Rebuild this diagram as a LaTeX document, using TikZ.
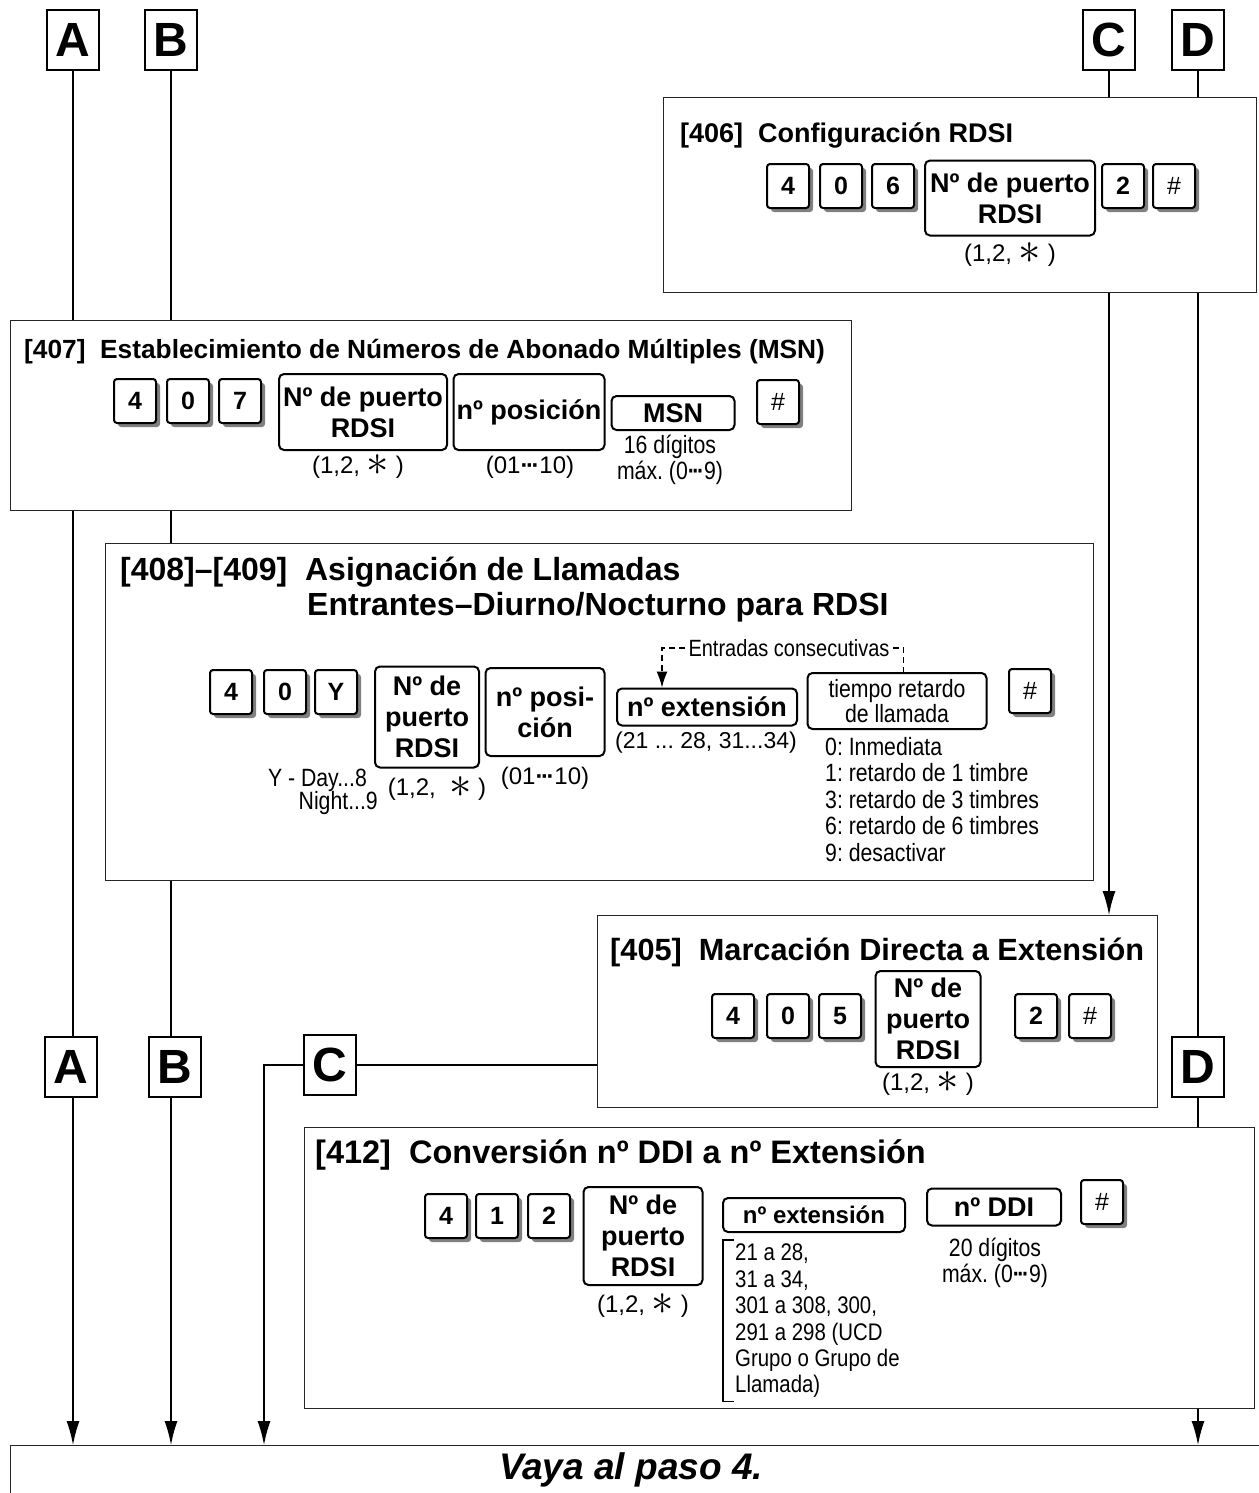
\documentclass[tikz,border=0pt]{standalone}
\usepackage{fontspec}
\setmainfont{Liberation Sans}
\newfontfamily\narrowsf[FakeStretch=0.85]{Liberation Sans}
\usetikzlibrary{arrows.meta, shadows}
\newcommand{\fs}[2]{\fontsize{#1}{#2}\selectfont}
\newcommand{\st}{\raisebox{-2pt}[0.72em][0pt]{\scalebox{1.8}{$\ast$}}}
\newcommand{\md}{\textbf{·\kern-2.5pt·\kern-2.5pt·}}
\frenchspacing

\begin{document}
\begin{tikzpicture}[x=1pt, y=-1pt,
    tag/.style={draw, line width=2.5pt, minimum width=52, minimum height=60, inner sep=0pt, fill=white, font=\bfseries\fs{48}{48}},
    panel/.style={draw=black!85, line width=1.3pt, anchor=north west, inner sep=0pt},
    key/.style={draw, line width=2pt, rounded corners=3pt, minimum width=42, minimum height=44, inner sep=0pt, fill=white, font=\bfseries\fs{25}{25}, drop shadow={shadow xshift=4pt, shadow yshift=-4pt, fill=black!50, opacity=1}},
    field/.style={draw, line width=2pt, rounded corners=5pt, inner sep=0pt, align=center, font=\bfseries\fs{27}{31}},
    heading/.style={anchor=west, inner sep=0pt, font=\bfseries\fs{#1}{#1}},
    note/.style={font=\fs{24}{26}, inner sep=0pt, align=center},
    thin/.style={font=\narrowsf\fs{25}{26.5}, inner sep=0pt},
    line/.style={line width=1.4pt},
    arr/.style={line width=1.4pt, -{Latex[length=24pt, width=13pt]}}
  ]
  \useasboundingbox (0,0) rectangle (1258,1493);

  % boxes
  \node[panel, minimum width=593, minimum height=195] (p406) at (663,97) {};
  \node[panel, minimum width=841, minimum height=190] (p407) at (10,320) {};
  \node[panel, minimum width=988, minimum height=337] (p408) at (105,543) {};
  \node[panel, minimum width=560, minimum height=192] (p405) at (597,915) {};
  \node[panel, minimum width=950, minimum height=281] (p412) at (304,1127) {};
  \node[panel, minimum width=1270, minimum height=90] (goal) at (10,1445) {};
  \node[font=\bfseries\itshape\fs{37}{37}, inner sep=0pt] (goaltext) at (631,1470) {Vaya al paso 4.};

  \node[tag] (A1) at (73,40) {A};
  \node[tag] (B1) at (171,40) {B};
  \node[tag] (C1) at (1109,40) {C};
  \node[tag] (D1) at (1198,40) {D};
  \node[tag] (A2) at (71,1067) {A};
  \node[tag] (B2) at (175,1067) {B};
  \node[tag] (C2) at (330,1065) {C};
  \node[tag] (D2) at (1198,1067) {D};

  % flow lines
  \draw[line] (A1.south) -- (A1 |- p407.north);
  \draw[line] (A1 |- p407.south) -- (A1 |- A2.north);
  \draw[arr] (A1 |- A2.south) -- (A1 |- goal.north);

  \draw[line] (B1.south) -- (B1 |- p407.north);
  \draw[line] (B1 |- p407.south) -- (B1 |- p408.north);
  \draw[line] (B1 |- p408.south) -- (B1 |- B2.north);
  \draw[arr] (B1 |- B2.south) -- (B1 |- goal.north);

  \draw[line] (C1.south) -- (C1 |- p406.north);
  \draw[arr] (C1 |- p406.south) -- (C1 |- p405.north);
  \draw[line] (p405.west |- C2) -- (C2.east);
  \coordinate (cturn) at (264,1065);
  \draw[arr] (C2.west) -- (cturn) -- (cturn |- goal.north);

  \draw[line] (D1.south) -- (D1 |- p406.north);
  \draw[line] (D1 |- p406.south) -- (D2.north);
  \draw[line] (D2.south) -- (D2 |- p412.north);
  \draw[arr] (D2 |- p412.south) -- (D2 |- goal.north);

  % [406]
  \node[heading=27] (t406) at (680,135) {[406]\ \ Configuración RDSI};
  \node[key] (k406a) at (788,186) {4};
  \node[key] (k406b) at (841,186) {0};
  \node[key] (k406c) at (893,186) {6};
  \node[field, minimum width=170, minimum height=75] (port406) at (1010,198) {Nº de puerto\\RDSI};
  \node[key] (k406d) at (1123,186) {2};
  \node[key, font=\fs{25}{25}] (k406e) at (1174,186) {\#};
  \node[note] (r406) at (1010,255) {(1,2, \st\ )};

  % [407]
  \node[heading=26.3] (t407) at (24,352) {[407]\ \ Establecimiento de Números de Abonado Múltiples (MSN)};
  \node[key] (k407a) at (135,401) {4};
  \node[key] (k407b) at (188,401) {0};
  \node[key] (k407c) at (240,401) {7};
  \node[field, minimum width=168, minimum height=76] (port407) at (363,412) {Nº de puerto\\RDSI};
  \node[field, minimum width=151, minimum height=76] (pos407) at (529,412) {nº posición};
  \node[field, minimum width=123, minimum height=34] (msn) at (673,413) {MSN};
  \node[key, font=\fs{25}{25}] (k407d) at (778,402) {\#};
  \node[note] (r407) at (358,467) {(1,2, \st\ )};
  \node[note] (rpos407) at (530,467) {(01\md10)};
  \node[thin, align=center] (rmsn) at (670,460) {16 dígitos\\máx. (0\md9)};

  % [408]-[409]
  \node[heading=32] (t408) at (120,572) {[408]--[409]\ \ Asignación de Llamadas};
  \node[heading=32] (t408b) at (307,607) {Entrantes--Diurno/Nocturno para RDSI};
  \node[key] (k408a) at (231,692) {4};
  \node[key] (k408b) at (285,692) {0};
  \node[key] (k408c) at (336,692) {Y};
  \node[field, minimum width=104, minimum height=101] (port408) at (427,717) {Nº de\\puerto\\RDSI};
  \node[field, minimum width=119, minimum height=88] (pos408) at (545,712) {nº posi-\\ción};
  \node[field, minimum width=180, minimum height=37] (ext408) at (707,707) {nº extensión};
  \node[field, minimum width=179, minimum height=56, font=\narrowsf\fs{25}{25}] (delay) at (897,701) {tiempo retardo\\de llamada};
  \node[key, font=\fs{25}{25}] (k408d) at (1030,691) {\#};
  \node[thin, anchor=east] (yday) at (367,780) {Y - Day...8};
  \node[thin, anchor=east] (ynight) at (378,803) {Night...9};
  \node[note] (r408) at (437,789) {(1,2,\ \ \st\ )};
  \node[note] (rpos408) at (545,778) {(01\md10)};
  \node[note, font=\fs{23}{23}] (rext408) at (706,743) {(21 ... 28, 31...34)};
  \node[thin, anchor=north west, align=left] (delayopt) at (825,737) {0: Inmediata\\1: retardo de 1 timbre\\3: retardo de 3 timbres\\6: retardo de 6 timbres\\9: desactivar};
  \node[thin, font=\narrowsf\fs{23.5}{23.5}] (consec) at (789,648) {Entradas consecutivas};
  \draw[line width=1.3pt, dash pattern=on 6pt off 4pt, -{Latex[length=16pt, width=11pt]}] ([xshift=-3pt]consec.west) -| ([xshift=46pt]ext408.north west);
  \draw[line width=1.3pt, dash pattern=on 6pt off 4pt] ([xshift=3pt]consec.east) -| ([xshift=97pt]delay.north west);

  % [405]
  \node[heading=30.7] (t405) at (610,952) {[405]\ \ Marcación Directa a Extensión};
  \node[key] (k405a) at (733,1016) {4};
  \node[key] (k405b) at (788,1016) {0};
  \node[key] (k405c) at (840,1016) {5};
  \node[field, minimum width=105, minimum height=96] (port405) at (928,1019) {Nº de\\puerto\\RDSI};
  \node[key] (k405d) at (1036,1016) {2};
  \node[key, font=\fs{25}{25}] (k405e) at (1090,1016) {\#};
  \node[note] (r405) at (928,1084) {(1,2,\ \st\ )};

  % [412]
  \node[heading=32.5] (t412) at (315,1155) {[412]\ \ Conversión nº DDI a nº Extensión};
  \node[key] (k412a) at (446,1216) {4};
  \node[key] (k412b) at (497,1216) {1};
  \node[key] (k412c) at (549,1216) {2};
  \node[field, minimum width=119, minimum height=98] (port412) at (643,1236) {Nº de\\puerto\\RDSI};
  \node[field, minimum width=182, minimum height=34, font=\bfseries\fs{24}{24}] (ext412) at (814,1215) {nº extensión};
  \node[field, minimum width=134, minimum height=37] (ddi) at (994,1207) {nº DDI};
  \node[key, font=\fs{25}{25}] (k412d) at (1102,1202) {\#};
  \node[note] (r412) at (643,1306) {(1,2,\ \st\ )};
  \node[thin, anchor=north west, align=left, font=\narrowsf\fs{24}{26.4}] (ranges) at (735,1244) {21 a 28,\\31 a 34,\\301 a 308, 300,\\291 a 298 (UCD\\Grupo o Grupo de\\Llamada)};
  \draw[line width=1.2pt] ([xshift=-1pt, yshift=4pt]ranges.north west) -- ([xshift=-12pt, yshift=4pt]ranges.north west) -- ([xshift=-12pt, yshift=-3pt]ranges.south west) -- ([xshift=-1pt, yshift=-3pt]ranges.south west);
  \node[thin, align=center] (rddi) at (995,1263) {20 dígitos\\máx. (0\md9)};
\end{tikzpicture}
\end{document}
